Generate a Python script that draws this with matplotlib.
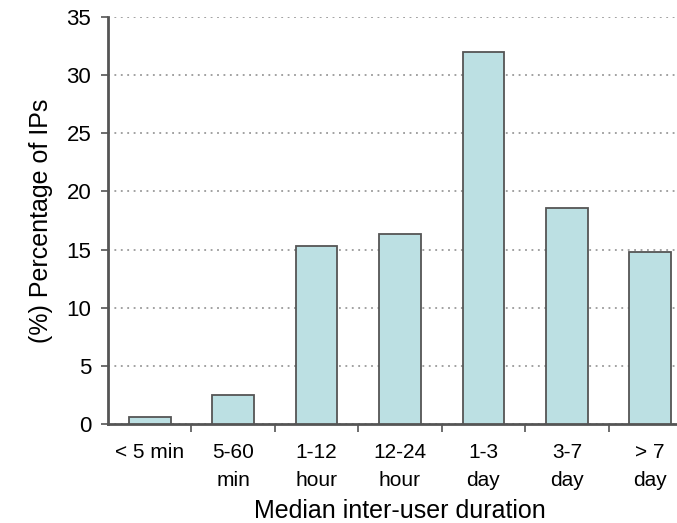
import numpy as np
import matplotlib
matplotlib.use("Agg")
import matplotlib.pyplot as plt

# duration buckets and share of IPs (%)
categories = ["< 5 min", "5-60\nmin", "1-12\nhour", "12-24\nhour", "1-3\nday", "3-7\nday", "> 7\nday"]
percent_ips = [0.6, 2.5, 15.3, 16.3, 32.0, 18.6, 14.8]
y_ticks = [0, 5, 10, 15, 20, 25, 30, 35]

plt.rcParams['font.family'] = ['Liberation Sans', 'DejaVu Sans']

fig = plt.figure(figsize=(6.77, 5.23), dpi=100)
# axes run past the right edge of the figure, as in the original
ax = fig.add_axes([0.1595, 0.1893, 0.8626, 0.778])

x = np.arange(len(categories))
ax.bar(x, percent_ips, width=0.5, color='#bce0e3', edgecolor='#555555', linewidth=1.3, zorder=3)

ax.set_xlim(-0.5, len(categories) - 0.5)
ax.set_ylim(0, 35)
ax.set_yticks(y_ticks)
ax.yaxis.grid(True, linestyle=(0, (1.2, 3)), color='#888888', linewidth=1.1, zorder=0)

# ticks between categories, labels under the category centres
ax.set_xticks(x[:-1] + 0.5)
ax.set_xticklabels([])
ax.set_xticks(x, minor=True)
ax.set_xticklabels(categories, minor=True, fontsize=15, linespacing=1.55, va='top')
ax.tick_params(axis='x', which='minor', length=0, pad=14)
ax.tick_params(axis='x', which='major', length=6, width=1.2, color='#555555')
ax.tick_params(axis='y', length=5, width=1.2, color='#555555', labelsize=16, pad=7)

for side in ['top', 'right']:
    ax.spines[side].set_visible(False)
for side in ['left', 'bottom']:
    ax.spines[side].set_color('#555555')
    ax.spines[side].set_linewidth(2)

ax.set_xlabel('Median inter-user duration', fontsize=18, labelpad=7)
ax.set_ylabel('(%) Percentage of IPs', fontsize=18, labelpad=10)

fig.savefig('out.png', dpi=100)
